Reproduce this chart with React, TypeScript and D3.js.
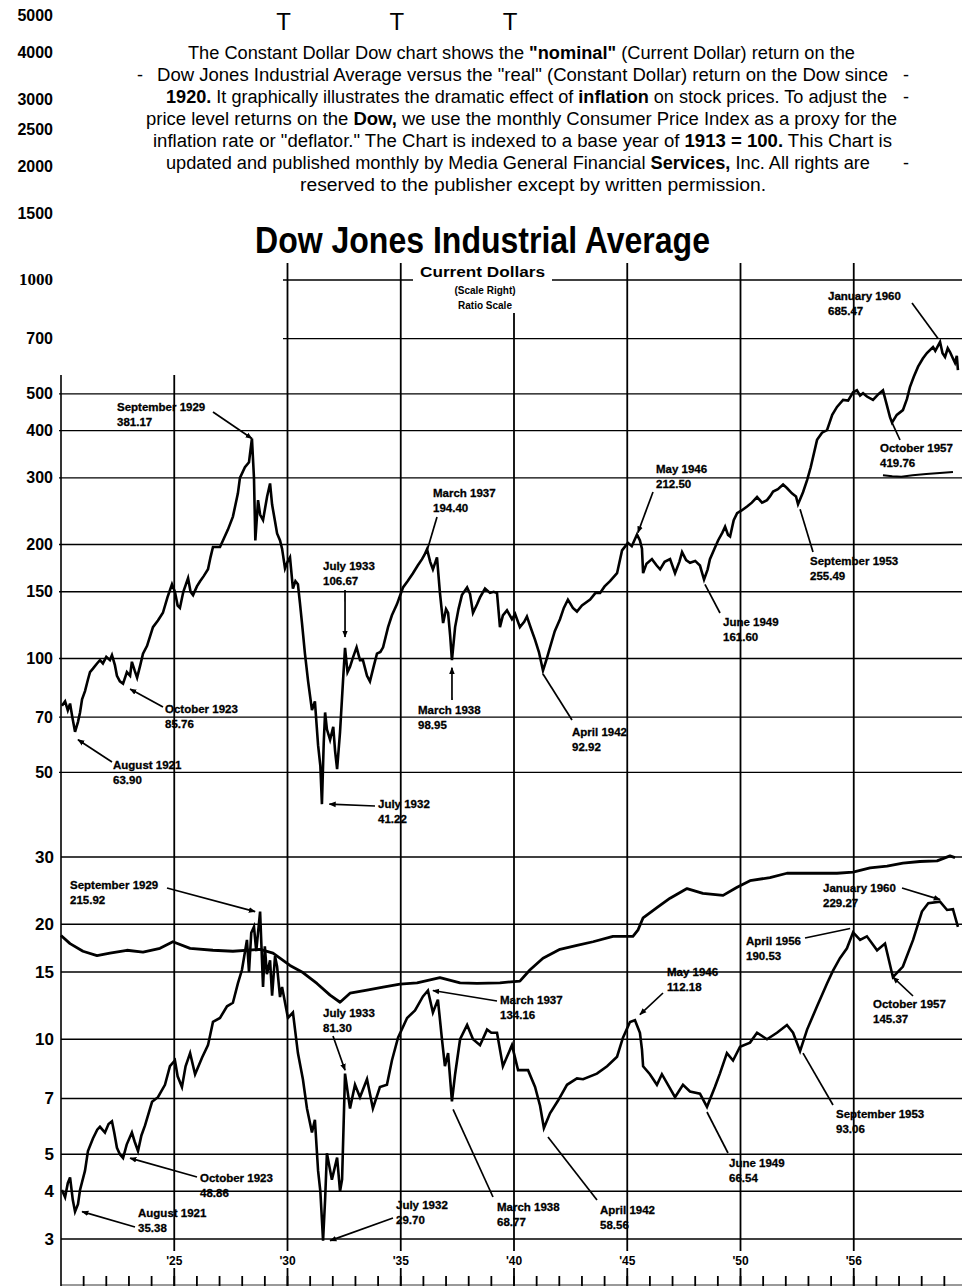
import React, { useEffect } from 'react';
import * as d3 from 'd3';

// x values are years as placed on the printed axis, y values are index levels
const currentDow: [number, number][] = [
  [1920.04, 75], [1920.18, 77], [1920.3, 73], [1920.4, 76], [1920.5, 70], [1920.62, 64], [1920.75, 68],
  [1920.84, 72], [1920.93, 78], [1921.06, 82], [1921.19, 88], [1921.28, 92], [1921.41, 94], [1921.59, 97],
  [1921.72, 99], [1921.85, 97], [1922.0, 101], [1922.16, 99], [1922.25, 102], [1922.38, 96], [1922.47, 90],
  [1922.6, 87], [1922.74, 85.76], [1922.91, 92], [1923.05, 90], [1923.13, 98], [1923.25, 93], [1923.36, 89],
  [1923.5, 96], [1923.62, 103], [1923.8, 108], [1924.06, 121], [1924.28, 126], [1924.5, 132], [1924.7, 145],
  [1924.9, 157], [1925.03, 150], [1925.15, 138], [1925.25, 136], [1925.4, 150], [1925.61, 163], [1925.72, 150],
  [1925.83, 147], [1926.0, 155], [1926.14, 160], [1926.3, 165], [1926.49, 172], [1926.6, 185], [1926.71, 197],
  [1927.02, 197], [1927.2, 208], [1927.37, 219], [1927.59, 237], [1927.81, 273], [1927.9, 300], [1928.12, 320],
  [1928.3, 330], [1928.43, 381.17], [1928.52, 300], [1928.58, 205], [1928.7, 262], [1928.79, 240], [1928.92, 232],
  [1929.1, 268], [1929.23, 290], [1929.32, 255], [1929.45, 230], [1929.54, 214], [1929.67, 205], [1929.76, 195],
  [1929.89, 173], [1930.0, 180], [1930.11, 185], [1930.24, 153], [1930.35, 160], [1930.46, 157], [1930.55, 140],
  [1930.64, 124], [1930.77, 103], [1930.91, 87], [1931.08, 73], [1931.21, 77], [1931.35, 59], [1931.45, 52],
  [1931.52, 41.22], [1931.6, 60], [1931.66, 72], [1931.74, 65], [1931.88, 61], [1932.02, 66], [1932.1, 57],
  [1932.19, 51], [1932.32, 64], [1932.45, 87], [1932.54, 106.67], [1932.65, 92], [1932.76, 95], [1932.9, 101],
  [1933.05, 107], [1933.2, 99], [1933.33, 99], [1933.51, 90], [1933.64, 87], [1933.8, 95], [1933.95, 103],
  [1934.1, 104], [1934.22, 107], [1934.44, 121], [1934.61, 130], [1934.83, 139], [1935.1, 154], [1935.3, 160],
  [1935.54, 168], [1935.75, 176], [1935.94, 183], [1936.05, 188], [1936.16, 194.4], [1936.3, 180], [1936.42, 172],
  [1936.6, 185], [1936.73, 149], [1936.87, 124], [1937.0, 135], [1937.09, 132], [1937.18, 115], [1937.26, 98.95],
  [1937.4, 121], [1937.55, 135], [1937.7, 147], [1937.93, 154], [1938.06, 148], [1938.19, 132], [1938.37, 139],
  [1938.5, 145], [1938.72, 153], [1938.94, 149], [1939.1, 150], [1939.25, 149], [1939.38, 121], [1939.51, 130],
  [1939.69, 134], [1939.91, 127], [1940.05, 131], [1940.26, 121], [1940.45, 125], [1940.57, 129], [1940.75, 120],
  [1940.93, 112], [1941.1, 104], [1941.28, 92.92], [1941.45, 100], [1941.59, 107], [1941.8, 118], [1942.03, 127],
  [1942.2, 136], [1942.38, 143], [1942.6, 136], [1942.78, 133], [1943.0, 138], [1943.36, 143], [1943.6, 149],
  [1943.8, 149], [1944.0, 155], [1944.24, 160], [1944.55, 168], [1944.77, 193], [1945.03, 202], [1945.2, 198],
  [1945.43, 212.5], [1945.56, 205], [1945.65, 195], [1945.7, 168], [1945.85, 178], [1946.09, 183], [1946.3, 176],
  [1946.45, 172], [1946.65, 180], [1946.89, 183], [1947.11, 168], [1947.3, 180], [1947.42, 191], [1947.6, 182],
  [1947.77, 179], [1948.0, 181], [1948.21, 176], [1948.39, 161.6], [1948.55, 172], [1948.65, 183], [1948.85, 195],
  [1949.01, 205], [1949.2, 215], [1949.32, 223], [1949.45, 212], [1949.54, 210], [1949.7, 232], [1949.85, 242],
  [1950.05, 246], [1950.29, 252], [1950.5, 258], [1950.73, 267], [1950.95, 258], [1951.17, 262], [1951.3, 268],
  [1951.44, 276], [1951.65, 280], [1951.88, 288], [1952.05, 282], [1952.27, 273], [1952.45, 268], [1952.54, 255.49],
  [1952.76, 275], [1952.94, 296], [1953.1, 320], [1953.38, 378], [1953.6, 395], [1953.82, 401], [1954.05, 440],
  [1954.26, 462], [1954.53, 482], [1954.75, 480], [1954.97, 505], [1955.14, 511], [1955.28, 495], [1955.41, 502],
  [1955.58, 492], [1955.85, 482], [1956.1, 500], [1956.29, 511], [1956.45, 470], [1956.6, 434], [1956.69, 419.76],
  [1956.9, 440], [1957.17, 453], [1957.35, 485], [1957.48, 521], [1957.65, 555], [1957.84, 590], [1958.05, 620],
  [1958.23, 641], [1958.5, 665], [1958.6, 650], [1958.81, 685.47], [1958.92, 640], [1959.03, 626], [1959.15, 660],
  [1959.25, 645], [1959.38, 620], [1959.47, 604], [1959.55, 630], [1959.6, 578],
];

const constantDow: [number, number][] = [
  [1920.04, 40.3], [1920.18, 38.6], [1920.3, 42], [1920.4, 43.5], [1920.52, 38], [1920.62, 35.38], [1920.75, 37],
  [1920.84, 40.3], [1921.06, 45.3], [1921.19, 51], [1921.41, 55], [1921.6, 58], [1921.72, 59], [1921.94, 57],
  [1922.1, 60], [1922.25, 61], [1922.35, 57], [1922.47, 52], [1922.6, 50], [1922.74, 48.86], [1922.9, 53],
  [1923.13, 57], [1923.25, 54], [1923.4, 51], [1923.55, 56], [1923.71, 59.5], [1924.02, 68.6], [1924.28, 70.5],
  [1924.59, 76], [1924.81, 85], [1925.03, 88], [1925.15, 80], [1925.34, 75], [1925.5, 85], [1925.7, 92],
  [1925.92, 81], [1926.23, 89.6], [1926.49, 96.5], [1926.71, 111], [1927.02, 113.7], [1927.33, 122],
  [1927.59, 124.6], [1927.81, 140], [1927.99, 152], [1928.21, 182], [1928.3, 150], [1928.4, 190], [1928.52, 197],
  [1928.62, 170], [1928.79, 215.92], [1928.92, 137], [1929.0, 175], [1929.09, 148], [1929.23, 161], [1929.32, 130],
  [1929.45, 165], [1929.54, 155], [1929.67, 129], [1929.76, 137], [1930.02, 113.7], [1930.24, 117.5], [1930.46, 92],
  [1930.68, 78.6], [1930.86, 65.9], [1931.08, 57], [1931.21, 61.5], [1931.35, 45.3], [1931.45, 40], [1931.57, 29.7],
  [1931.66, 38], [1931.74, 50.3], [1931.96, 42.9], [1932.19, 49], [1932.32, 40], [1932.41, 43], [1932.54, 81.3],
  [1932.76, 65.9], [1932.98, 76], [1933.2, 70.5], [1933.51, 78.6], [1933.77, 65.9], [1934.08, 75], [1934.39, 76],
  [1934.61, 88], [1934.88, 101], [1935.28, 113.7], [1935.63, 119], [1935.98, 129.5], [1936.2, 134.16],
  [1936.42, 117.5], [1936.64, 127], [1936.82, 100], [1936.95, 85], [1937.09, 92], [1937.26, 68.77], [1937.4, 81],
  [1937.62, 100], [1937.93, 109], [1938.19, 100], [1938.5, 96.5], [1938.81, 106], [1939.0, 104], [1939.25, 104],
  [1939.51, 85], [1939.91, 96.5], [1940.18, 83], [1940.62, 83], [1940.93, 75], [1941.15, 67], [1941.32, 58.56],
  [1941.59, 64], [1941.94, 69], [1942.34, 76], [1942.78, 79], [1943.05, 78.6], [1943.66, 81.3], [1944.11, 85],
  [1944.55, 90], [1944.81, 101], [1945.12, 111], [1945.34, 112.18], [1945.56, 104], [1945.65, 94], [1945.7, 85],
  [1946.0, 81], [1946.31, 76], [1946.53, 81], [1946.8, 76], [1947.11, 70.5], [1947.46, 76], [1947.77, 73],
  [1948.21, 72], [1948.52, 66.54], [1948.87, 75], [1949.09, 81.3], [1949.4, 92], [1949.67, 88], [1949.98, 95.6],
  [1950.42, 98], [1950.73, 104], [1951.17, 100], [1951.61, 104], [1952.05, 109], [1952.32, 104], [1952.63, 93.06],
  [1952.94, 106], [1953.38, 122], [1953.82, 140], [1954.08, 151], [1954.39, 163], [1954.7, 173], [1954.97, 190.53],
  [1955.28, 182], [1955.58, 186], [1956.03, 171], [1956.38, 178], [1956.73, 145.37], [1957.17, 155], [1957.62, 182],
  [1958.01, 216], [1958.29, 227], [1958.81, 229.27], [1959.12, 218], [1959.38, 219], [1959.6, 197],
];

// smooth index line drawn on the lower (constant dollar) scale
const deflatorLine: [number, number][] = [
  [1920.0, 187], [1920.4, 178], [1920.97, 170], [1921.59, 165.6], [1922.16, 168], [1922.91, 171], [1923.62, 169],
  [1924.37, 173], [1924.94, 180], [1925.7, 173], [1926.71, 171], [1927.59, 170], [1928.79, 172], [1929.36, 168],
  [1930.11, 156], [1930.68, 149.5], [1931.3, 140], [1931.88, 130.5], [1932.32, 125], [1932.76, 132], [1933.51, 134.5],
  [1934.22, 137], [1934.97, 139.5], [1935.72, 140.5], [1936.73, 145], [1937.62, 140.5], [1938.37, 140], [1939.38, 140.5],
  [1940.26, 142], [1940.71, 152], [1941.28, 163], [1942.03, 172], [1942.78, 176], [1943.49, 180], [1944.37, 186],
  [1945.25, 186], [1945.47, 193], [1945.7, 208], [1946.31, 221], [1946.89, 234], [1947.64, 248], [1948.34, 241],
  [1949.23, 238], [1949.85, 250], [1950.42, 260], [1951.3, 265], [1952.05, 272], [1952.76, 272], [1953.51, 272],
  [1954.26, 272], [1954.97, 274], [1955.72, 281], [1956.47, 284], [1957.17, 289], [1957.92, 292], [1958.68, 293],
  [1959.25, 302], [1959.47, 299],
];

const rightScaleStub: [number, number][] = [
  [1956.29, 305], [1956.7, 303], [1957.1, 302], [1957.6, 305], [1958.2, 307], [1958.8, 309], [1959.38, 311],
];

const upperTickValues = [5000, 4000, 3000, 2500, 2000, 1500, 1000, 700, 500, 400, 300, 200, 150, 100, 70, 50];
const upperGridFull = [500, 400, 300, 200, 150, 100, 70, 50];
const lowerTickValues = [300, 200, 150, 100, 70, 50, 40, 30];
const lowerTickLabels = ['30', '20', '15', '10', '7', '5', '4', '3'];
const majorYears = [1920, 1925, 1930, 1935, 1940, 1945, 1950, 1955];
const yearLabels = ["'25", "'30", "'35", "'40", "'45", "'50", "'56"];

const upperNotes = [
  { date: 'September 1929', value: '381.17', year: 1928.43, v: 381.17 },
  { date: 'March 1937', value: '194.40', year: 1936.18, v: 194.4 },
  { date: 'July 1933', value: '106.67', year: 1932.54, v: 114 },
  { date: 'October 1923', value: '85.76', year: 1923.05, v: 83 },
  { date: 'August 1921', value: '63.90', year: 1920.75, v: 61 },
  { date: 'July 1932', value: '41.22', year: 1931.85, v: 41.22 },
  { date: 'March 1938', value: '98.95', year: 1937.26, v: 94.5 },
  { date: 'April 1942', value: '92.92', year: 1941.28, v: 91 },
  { date: 'May 1946', value: '212.50', year: 1945.47, v: 215 },
  { date: 'June 1949', value: '161.60', year: 1948.43, v: 157 },
  { date: 'September 1953', value: '255.49', year: 1952.63, v: 248 },
  { date: 'October 1957', value: '419.76', year: 1956.69, v: 419.76 },
  { date: 'January 1960', value: '685.47', year: 1958.72, v: 700 },
];

const lowerNotes = [
  { date: 'September 1929', value: '215.92', year: 1928.57, v: 215.92 },
  { date: 'July 1933', value: '81.30', year: 1932.54, v: 83 },
  { date: 'October 1923', value: '48.86', year: 1923.05, v: 48.86 },
  { date: 'August 1921', value: '35.38', year: 1920.93, v: 35.38 },
  { date: 'July 1932', value: '29.70', year: 1931.88, v: 29.7 },
  { date: 'March 1937', value: '134.16', year: 1936.42, v: 134.16 },
  { date: 'March 1938', value: '68.77', year: 1937.31, v: 65.5 },
  { date: 'April 1942', value: '58.56', year: 1941.5, v: 55.5 },
  { date: 'May 1946', value: '112.18', year: 1945.56, v: 116 },
  { date: 'June 1949', value: '66.54', year: 1948.52, v: 64.5 },
  { date: 'September 1953', value: '93.06', year: 1952.76, v: 92 },
  { date: 'April 1956', value: '190.53', year: 1954.84, v: 195 },
  { date: 'October 1957', value: '145.37', year: 1956.73, v: 145.37 },
  { date: 'January 1960', value: '229.27', year: 1958.81, v: 232 },
];

// layout for the notes: text x, first baseline, leader start x, y, arrowhead
const upperNoteLayout: [number, number, number, number, boolean][] = [
  [117, 411, 213, 412, true], [433, 497, 437, 517, false], [323, 570, 345, 590, true],
  [165, 713, 163, 707, true], [113, 769, 112, 762, true], [378, 808, 375, 806, true],
  [418, 714, 452, 700, true], [572, 736, 572, 720, false], [656, 473, 653, 492, true],
  [723, 626, 720, 613, false], [810, 565, 813, 552, false], [880, 452, 900, 440, false],
  [828, 300, 912, 303, false],
];
const lowerNoteLayout: [number, number, number, number, boolean][] = [
  [70, 889, 167, 888, true], [323, 1017, 333, 1036, true], [200, 1182, 197, 1177, true],
  [138, 1217, 135, 1227, true], [396, 1209, 393, 1218, true], [500, 1004, 497, 1001, true],
  [497, 1211, 493, 1197, false], [600, 1214, 597, 1200, false], [667, 976, 663, 993, true],
  [729, 1167, 728, 1153, false], [836, 1118, 833, 1105, false], [746, 945, 805, 938, false],
  [873, 1008, 913, 996, true], [823, 892, 902, 888, true],
];

// paragraph lines: [text, bold] segments
const paraLines: [string, boolean][][] = [
  [['The Constant Dollar Dow chart shows the ', false], ['"nominal"', true], [' (Current Dollar) return on the', false]],
  [['Dow Jones Industrial Average versus the "real" (Constant Dollar) return on the Dow since', false]],
  [['1920.', true], [' It graphically illustrates the dramatic effect of ', false], ['inflation', true], [' on stock prices. To adjust the', false]],
  [['price level returns on the ', false], ['Dow,', true], [' we use the monthly Consumer Price Index as a proxy for the', false]],
  [['inflation rate or "deflator." The Chart is indexed to a base year of ', false], ['1913 = 100.', true], [' This Chart is', false]],
  [['updated and published monthly by Media General Financial ', false], ['Services,', true], [' Inc. All rights are', false]],
  [['reserved to the publisher except by written permission.', false]],
];
const paraLayout = [[188, 855, 59], [157, 888, 81], [166, 887, 103], [146, 897, 125], [153, 892, 147], [166, 870, 169], [300, 766, 191]];
const paraDashes = [[137, 81], [903, 81], [903, 103], [903, 169]];

const verticalTop: Record<number, number> = { 1920: 375, 1925: 375, 1930: 263, 1935: 263, 1940: 313, 1945: 263, 1950: 263, 1955: 263 };

const SANS = "'Liberation Sans', Arial, Helvetica, sans-serif";

export default function App() {
  useEffect(() => {
    document.body.style.margin = '0';
    document.body.style.background = '#fff';
  }, []);

  const x = d3.scaleLinear().domain([1920, 1960]).range([61, 967]);
  const yUp = d3.scaleLog().domain([50, 5000]).range([772.4, 15.4]);
  const yLo = d3.scaleLog().domain([30, 300]).range([1239, 857]);
  const lineUp = d3.line<[number, number]>().x(d => x(d[0])).y(d => yUp(d[1]));
  const lineLo = d3.line<[number, number]>().x(d => x(d[0])).y(d => yLo(d[1]));
  const gridRight = 962;
  const years = d3.range(1921, 1960);

  const renderNotes = (
    notes: typeof upperNotes,
    layout: [number, number, number, number, boolean][],
    y: (v: number) => number,
    key: string,
  ) =>
    notes.map((n, i) => {
      const [tx, ty, lx, ly, head] = layout[i];
      return (
        <g key={key + i}>
          <line x1={lx} y1={ly} x2={x(n.year)} y2={y(n.v)} stroke="#000" strokeWidth={1.7}
            markerEnd={head ? 'url(#arrow)' : undefined} />
          <text x={tx} y={ty} fontSize={11.5} fontWeight="bold" fontFamily={SANS}
            stroke="#000" strokeWidth={0.3}>{n.date}</text>
          <text x={tx} y={ty + 15} fontSize={11.5} fontWeight="bold" fontFamily={SANS}
            stroke="#000" strokeWidth={0.3}>{n.value}</text>
        </g>
      );
    });

  return (
    <svg width={970} height={1286} style={{ display: 'block', background: '#fff' }}>
      <defs>
        <marker id="arrow" viewBox="0 0 10 10" refX="9" refY="5" markerWidth="7" markerHeight="7"
          markerUnits="userSpaceOnUse" orient="auto">
          <path d="M0,1 L10,5 L0,9 z" fill="#000" />
        </marker>
      </defs>

      {/* gridline tops that show through the text block */}
      {[1930, 1935, 1940].map(yr => (
        <text key={yr} x={x(yr) - 4} y={30} fontSize={24} fontFamily={SANS} textAnchor="middle">T</text>
      ))}

      {/* left axis labels */}
      {upperTickValues.map(v => (
        <text key={v} x={53} y={yUp(v) + 5.5} textAnchor="end" fontSize={v === 1000 ? 17 : 16}
          fontWeight="bold" fontFamily={v === 1000 ? "'Liberation Serif', 'Times New Roman', serif" : SANS}>{v}</text>
      ))}
      {lowerTickValues.map((v, i) => (
        <text key={v} x={54} y={yLo(v) + 6} textAnchor="end" fontSize={17} fontWeight="bold" fontFamily={SANS}>
          {lowerTickLabels[i]}
        </text>
      ))}

      {/* descriptive paragraph */}
      {paraLines.map((segs, i) => {
        const [x0, x1, by] = paraLayout[i];
        return (
          <text key={i} x={x0} y={by} fontSize={18} fontFamily={SANS} textLength={x1 - x0} lengthAdjust="spacingAndGlyphs">
            {segs.map(([t, b], j) => (
              <tspan key={j} fontWeight={b ? 'bold' : 'normal'}>{t}</tspan>
            ))}
          </text>
        );
      })}
      {paraDashes.map(([dx, dy], i) => (
        <text key={i} x={dx} y={dy} fontSize={18} fontFamily={SANS}>-</text>
      ))}

      {/* title */}
      <text x={255} y={253} fontSize={36} fontWeight="bold" fontFamily={SANS} textLength={455}
        lengthAdjust="spacingAndGlyphs">Dow Jones Industrial Average</text>
      <text x={420} y={277} fontSize={14.5} fontWeight="bold" fontFamily={SANS} textLength={125}
        lengthAdjust="spacingAndGlyphs">Current Dollars</text>
      <text x={485} y={294} fontSize={10} fontWeight="bold" fontFamily={SANS} textAnchor="middle">(Scale Right)</text>
      <text x={485} y={309} fontSize={10} fontWeight="bold" fontFamily={SANS} textAnchor="middle">Ratio Scale</text>

      {/* horizontal grid */}
      <g stroke="#000" strokeWidth={1.4}>
        {upperGridFull.map(v => (
          <line key={'u' + v} x1={59} x2={gridRight} y1={yUp(v)} y2={yUp(v)} />
        ))}
        <line x1={283} x2={413} y1={yUp(1000)} y2={yUp(1000)} />
        <line x1={552} x2={gridRight} y1={yUp(1000)} y2={yUp(1000)} />
        <line x1={283} x2={gridRight} y1={yUp(700)} y2={yUp(700)} />
        {lowerTickValues.map(v => (
          <line key={'l' + v} x1={61} x2={gridRight} y1={yLo(v)} y2={yLo(v)} />
        ))}
      </g>

      {/* vertical grid */}
      <g stroke="#000">
        {majorYears.map(yr => (
          <line key={yr} x1={x(yr)} x2={x(yr)} y1={verticalTop[yr]} y2={1286} strokeWidth={yr === 1920 ? 1.6 : 1.8} />
        ))}
        {years.map(yr => (
          <line key={'t' + yr} x1={x(yr)} x2={x(yr)} y1={1276} y2={1286} strokeWidth={1.8} />
        ))}
        <line x1={61} x2={gridRight} y1={1285} y2={1285} strokeWidth={0.8} />
      </g>
      {majorYears.slice(1).map((yr, i) => (
        <g key={'yl' + yr}>
          <rect x={x(yr) - 10} y={1251} width={20} height={17} fill="#fff" />
          <text x={x(yr)} y={1265} textAnchor="middle" fontSize={12} fontWeight="bold" fontFamily={SANS}>{yearLabels[i]}</text>
        </g>
      ))}

      {/* series */}
      <path d={lineUp(currentDow) || ''} fill="none" stroke="#000" strokeWidth={2.6} strokeLinejoin="miter" />
      <path d={lineUp(rightScaleStub) || ''} fill="none" stroke="#000" strokeWidth={2} />
      <path d={lineLo(deflatorLine) || ''} fill="none" stroke="#000" strokeWidth={2.8} strokeLinejoin="round" />
      <path d={lineLo(constantDow) || ''} fill="none" stroke="#000" strokeWidth={2.6} strokeLinejoin="miter" />

      {/* annotations */}
      {renderNotes(upperNotes, upperNoteLayout, v => yUp(v), 'u')}
      {renderNotes(lowerNotes, lowerNoteLayout, v => yLo(v), 'l')}
    </svg>
  );
}
